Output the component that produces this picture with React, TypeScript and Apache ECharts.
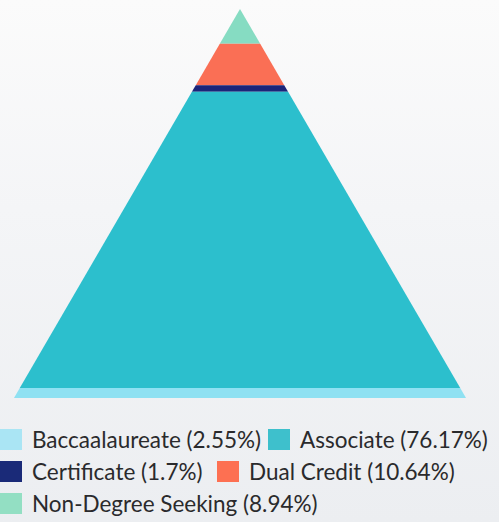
import React, { useEffect, useRef } from "react";
import * as echarts from "echarts";

const layerNames = ["Non-Degree Seeking", "Dual Credit", "Certificate", "Associate", "Baccaalaureate"];
const layerValues = [8.94, 10.64, 1.7, 76.17, 2.55];
const layerColors = ["#86dcc2", "#fa6f55", "#1b2479", "#2cbfcd", "#8fe1f2"];
const legendColors = ["#93dfc3", "#fd7052", "#1a2a78", "#3ec0cc", "#aae5f4"];

const legendRows = [
  { name: "Baccaalaureate", left: 0, top: 428 },
  { name: "Associate", left: 268, top: 428 },
  { name: "Certificate", left: 0, top: 460 },
  { name: "Dual Credit", left: 217, top: 460 },
  { name: "Non-Degree Seeking", left: 0, top: 492 },
];

export default function App() {
  const ref = useRef<HTMLDivElement>(null);
  useEffect(() => {
    if (!ref.current) return;
    const chart = echarts.init(ref.current, null, { renderer: "svg" });
    let cum = 0;
    const series = layerNames.map((name, i) => {
      const s = cum;
      const e = cum + layerValues[i];
      cum = e;
      return {
        type: "custom",
        name,
        data: [[s, e]],
        itemStyle: { color: layerColors[i] },
        renderItem: (params: any, api: any) => {
          const a = api.value(0);
          const b = api.value(1);
          const p1 = api.coord([-a / 100, a]);
          const p2 = api.coord([a / 100, a]);
          const p3 = api.coord([b / 100, b]);
          const p4 = api.coord([-b / 100, b]);
          return {
            type: "polygon",
            shape: { points: [p1, p2, p3, p4] },
            style: { fill: layerColors[i] },
          };
        },
      };
    });
    const idx = (n: string) => layerNames.indexOf(n);
    chart.setOption({
      animation: false,
      backgroundColor: "transparent",
      grid: { left: 14, right: 33, top: 9, bottom: 124 },
      xAxis: { type: "value", min: -1, max: 1, show: false },
      yAxis: { type: "value", min: 0, max: 100, inverse: true, show: false },
      legend: legendRows.map((r) => ({
        left: r.left,
        top: r.top,
        padding: 0,
        itemWidth: 22,
        itemHeight: 21,
        itemGap: 0,
        icon: "rect",
        selectedMode: false,
        data: [
          {
            name: r.name,
            itemStyle: { color: legendColors[idx(r.name)] },
          },
        ],
        formatter: (n: string) => `${n} (${layerValues[idx(n)]}%)`,
        textStyle: {
          fontFamily: "Lato",
          fontSize: 22.5,
          lineHeight: 21,
          color: "#2a2a2c",
          padding: [0, 0, 0, 5],
        },
      })),
      series,
    });
    return () => chart.dispose();
  }, []);
  return (
    <div
      style={{
        position: "absolute",
        left: 0,
        top: 0,
        width: 499,
        height: 522,
        background: "linear-gradient(#fbfbfb 0%, #f4f5f7 40%, #eceef1 100%)",
      }}
    >
      <div ref={ref} style={{ width: 499, height: 522 }} />
    </div>
  );
}
